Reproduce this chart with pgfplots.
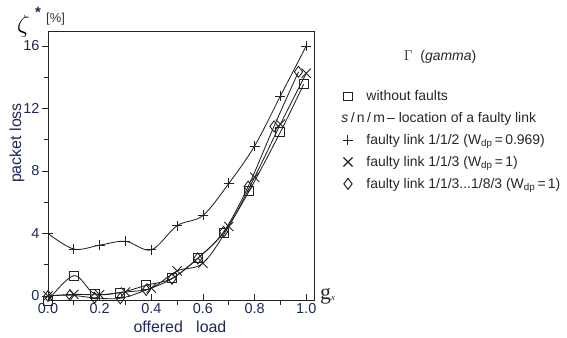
\documentclass[border=0pt]{standalone}
\usepackage{fontspec}
\setmainfont{Liberation Sans}
\newfontfamily\serif{Liberation Serif}
\usepackage{pgfplots}
\pgfplotsset{compat=1.18}
\definecolor{navy}{RGB}{28,40,90}
\definecolor{linec}{RGB}{35,35,35}
\begin{document}
\begin{tikzpicture}
\path[use as bounding box] (0,0) rectangle (567bp,338bp);
\begin{axis}[
  at={(48bp,38bp)}, anchor=south west,
  scale only axis, width=266bp, height=269bp,
  xmin=0, xmax=1.03, ymin=-0.26, ymax=16.96,
  clip=false,
  axis line style={linec, line width=0.8bp},
  xtick={0,0.2,0.4,0.6,0.8,1.0},
  minor xtick={0.1,0.3,0.5,0.7,0.9},
  ytick={0,4,8,12,16},
  minor ytick={2,6,10,14},
  xtick pos=bottom, ytick pos=left,
  major tick length=6bp, minor tick length=4.5bp,
  x tick style={linec, line width=0.8bp},
  y tick style={linec, line width=0.8bp},
  ytick align=outside,
  xtick align=inside,
  minor x tick style={yshift=-4.5bp},
  /pgf/number format/assume math mode=true,
  ticklabel style={font=\fontsize{14.5}{14.5}\selectfont, text=navy},
  xticklabel style={yshift=0bp, /pgf/number format/fixed, /pgf/number format/fixed zerofill, /pgf/number format/precision=1},
  yticklabel style={xshift=1bp},
  every axis plot/.append style={linec, line width=0.85bp, smooth, tension=0.55},
  legend style={draw=none, fill=none, at={(rel axis cs:1.095,0.785)}, anchor=north west,
    font=\fontsize{14}{14}\selectfont, text=black!85, row sep=7.3bp, column sep=12bp, inner sep=0pt,
    nodes={inner sep=1.5pt}},
  legend cell align=left,
]
\addplot[mark=+, mark size=5bp, mark options={line width=0.9bp}, forget plot] coordinates {
  (0,4.0)(0.1,3.0)(0.2,3.25)(0.3,3.5)(0.4,2.95)(0.5,4.5)(0.6,5.15)(0.7,7.2)(0.8,9.6)(0.9,12.8)(1.0,16.0)};
\addplot[mark=x, mark size=6.5bp, mark options={line width=0.9bp}, forget plot] coordinates {
  (0,0)(0.1,0.1)(0.2,0.08)(0.3,0.25)(0.4,0.5)(0.5,1.6)(0.6,2.1)(0.7,4.45)(0.8,7.6)(0.9,11.0)(1.0,14.25)};
\addplot[mark=diamond, mark size=5.5bp, mark options={line width=0.9bp, fill=white}, forget plot] coordinates {
  (0,0)(0.085,0.05)(0.18,-0.12)(0.28,-0.15)(0.38,0.38)(0.48,1.1)(0.58,2.4)(0.68,4.1)(0.775,7.0)(0.875,10.85)(0.97,14.35)};
\addplot[mark=square, mark size=4.5bp, mark options={line width=0.9bp}, forget plot] coordinates {
  (0,-0.3)(0.1,1.3)(0.18,0.15)(0.28,0.22)(0.38,0.68)(0.48,1.12)(0.58,2.42)(0.68,4.05)(0.78,6.75)(0.9,10.5)(0.99,13.55)};
\addlegendimage{only marks, mark=square, mark size=4.3bp, linec, mark options={line width=1bp}}
\addlegendentry{without faults}
\addlegendimage{empty legend}
\addlegendentry{\hspace*{-25bp}\textit{s}\,/\,n\,/\,m\,-- location of a faulty link}
\addlegendimage{only marks, mark=+, mark size=5bp, linec, mark options={line width=1bp}}
\addlegendentry{faulty link 1/1/2 (W\textsubscript{dp}\,=\,0.969)}
\addlegendimage{only marks, mark=x, mark size=6.5bp, linec, mark options={line width=1.1bp}}
\addlegendentry{faulty link 1/1/3 (W\textsubscript{dp}\,=\,1)}
\addlegendimage{only marks, mark=diamond, mark size=5.5bp, linec, mark options={line width=1bp}}
\addlegendentry{faulty link 1/1/3...1/8/3 (W\textsubscript{dp}\,=\,1)}
\end{axis}
\node[font=\fontsize{14}{14}\selectfont, text=black!85] at (440bp,281bp) {$\Gamma$\ \ (\textit{gamma})};
\node[rotate=90, font=\fontsize{16}{16}\selectfont, text=navy] at (17bp,195bp) {packet loss};
\node[font=\fontsize{16}{16}\selectfont, text=navy] at (180bp,11bp) {offered\ \ \ load};
\node[anchor=south west, inner sep=0pt] at (17bp,300bp) {\fontsize{25}{25}\selectfont$\zeta$};
\node[anchor=south west, inner sep=0pt, text=navy] at (35bp,320bp) {\fontsize{15}{15}\selectfont\bfseries *};
\node[anchor=south west, inner sep=0pt, text=black!80] at (46bp,313bp) {\fontsize{13}{13}\selectfont [\%]};
\node[anchor=south west, inner sep=0pt, text=black!85] at (320bp,34bp) {\fontsize{22}{22}\selectfont\serif g\raisebox{-1bp}{\fontsize{9}{9}\selectfont\itshape x}};
\end{tikzpicture}
\end{document}
